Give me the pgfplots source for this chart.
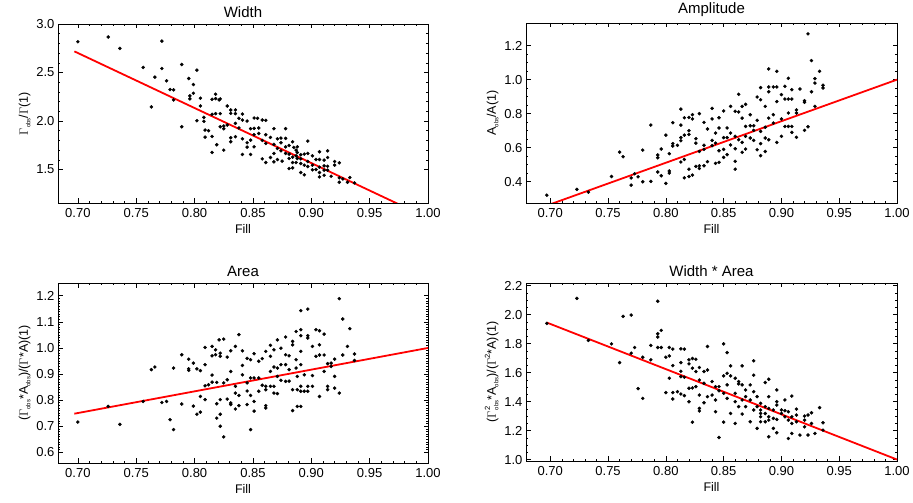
\documentclass[border=0pt]{standalone}
\usepackage{fontspec}
\setmainfont{Liberation Sans}
\usepackage{pgfplots}
\pgfplotsset{compat=1.18}
\newcommand{\sub}[1]{\raisebox{-0.35ex}{\fontsize{6}{6}\selectfont #1}}
\newcommand{\sps}[1]{\raisebox{0.9ex}{\fontsize{7.5}{7.5}\selectfont #1}}
\pgfplotsset{
  panel/.style={
    scale only axis,
    anchor=south west,
    font=\fontsize{12.5}{14}\selectfont,
    tick label style={font=\fontsize{13}{14}\selectfont},
    title style={font=\fontsize{15}{16}\selectfont, yshift=-3pt},
    xlabel style={font=\fontsize{12.5}{14}\selectfont, yshift=0pt},
    ylabel style={font=\fontsize{12.5}{14}\selectfont, yshift=-1pt},
    /pgf/number format/assume math mode=true,
    xmax=1.0,
    xtick={0.70,0.75,0.80,0.85,0.90,0.95,1.00},
    minor x tick num=4,
    xticklabel style={yshift=-1.5pt, /pgf/number format/.cd, fixed, fixed zerofill, precision=2},
    yticklabel style={/pgf/number format/.cd, fixed, fixed zerofill, precision=1},
    tick align=inside,
    major tick length=4.5pt, minor tick length=2.2pt,
    tick style={black, line width=0.6pt},
    axis line style={line width=0.9pt},
    xlabel={Fill},
  },
  dots/.style={only marks, mark=*, mark size=1.55pt, black},
  fit/.style={red, line width=1.8pt, no marks},
}
\begin{document}
\begin{tikzpicture}[x=1pt,y=1pt]
\useasboundingbox (0,0) rectangle (913,503);
% ---------------- Width
\begin{axis}[panel, at={(58pt,300pt)}, width=370pt, height=179pt,
  xmin=0.683, ymin=1.155, ymax=3.0, ytick={1.5,2.0,2.5,3.0}, minor y tick num=4,
  title={Width}, ylabel={$\Gamma$\sub{obs}/$\Gamma$(1)}]
\addplot[dots] table[row sep=\\] {
x y\\
0.700 2.817\\ 0.726 2.866\\ 0.736 2.748\\ 0.756 2.552\\ 0.772 2.824\\ 0.766 2.452\\ 0.772 2.541\\ 0.776 2.414\\
0.763 2.145\\ 0.779 2.324\\ 0.782 2.321\\ 0.782 2.217\\ 0.789 2.583\\ 0.789 1.941\\ 0.795 2.438\\ 0.796 2.259\\
0.796 2.228\\ 0.799 2.376\\ 0.799 2.286\\ 0.802 2.524\\ 0.802 2.003\\ 0.805 2.235\\ 0.805 2.155\\ 0.808 2.038\\
0.808 1.997\\ 0.809 1.907\\ 0.809 1.834\\ 0.812 1.900\\ 0.815 2.224\\ 0.815 2.069\\ 0.815 1.841\\ 0.815 1.676\\
0.818 2.276\\ 0.818 2.231\\ 0.818 2.076\\ 0.819 1.755\\ 0.821 2.217\\ 0.822 2.076\\ 0.822 1.941\\ 0.822 2.228\\
0.825 1.948\\ 0.825 1.921\\ 0.825 1.700\\ 0.828 2.155\\ 0.828 1.959\\ 0.831 2.114\\ 0.831 2.079\\ 0.831 1.828\\
0.831 1.786\\ 0.835 2.114\\ 0.835 2.076\\ 0.835 1.976\\ 0.835 1.838\\ 0.838 2.028\\ 0.838 1.928\\ 0.841 2.072\\
0.841 2.010\\ 0.841 1.817\\ 0.841 1.655\\ 0.845 2.000\\ 0.845 1.776\\ 0.845 1.731\\ 0.848 1.921\\ 0.848 1.655\\
0.848 1.803\\ 0.851 2.031\\ 0.851 1.924\\ 0.851 1.859\\ 0.851 1.734\\ 0.854 2.028\\ 0.855 1.928\\ 0.855 1.872\\
0.858 2.010\\ 0.858 1.800\\ 0.858 1.610\\ 0.861 2.007\\ 0.861 1.859\\ 0.861 1.572\\ 0.865 1.831\\ 0.865 1.624\\
0.868 1.921\\ 0.868 1.759\\ 0.868 1.579\\ 0.871 1.817\\ 0.871 1.717\\ 0.871 1.603\\ 0.874 1.824\\ 0.874 1.693\\
0.875 1.586\\ 0.878 1.921\\ 0.878 1.821\\ 0.878 1.666\\ 0.881 1.748\\ 0.881 1.510\\ 0.881 1.614\\ 0.884 1.786\\
0.884 1.572\\ 0.884 1.517\\ 0.885 1.728\\ 0.887 1.700\\ 0.887 1.641\\ 0.887 1.572\\ 0.888 1.676\\ 0.891 1.652\\
0.891 1.610\\ 0.891 1.469\\ 0.894 1.445\\ 0.894 1.659\\ 0.897 1.793\\ 0.897 1.666\\ 0.897 1.531\\ 0.901 1.641\\
0.901 1.497\\ 0.904 1.500\\ 0.907 1.683\\ 0.907 1.603\\ 0.907 1.469\\ 0.907 1.424\\ 0.911 1.597\\ 0.911 1.538\\
0.911 1.441\\ 0.914 1.693\\ 0.914 1.624\\ 0.914 1.534\\ 0.917 1.431\\ 0.920 1.583\\ 0.920 1.545\\ 0.924 1.569\\
0.924 1.369\\ 0.927 1.403\\ 0.931 1.369\\ 0.933 1.417\\ 0.937 1.362\\ 0.878 1.734\\ 0.881 1.659\\ 0.888 1.614\\
0.891 1.562\\ 0.894 1.545\\ 0.901 1.545\\ 0.904 1.603\\ 0.914 1.493\\ 0.924 1.414\\ 0.868 1.666\\ 0.861 1.769\\
0.874 1.776\\ 0.884 1.628\\ 0.888 1.734\\ 0.897 1.583\\ 0.907 1.524\\ 0.911 1.493\\
};
\addplot[fit] coordinates {(0.697,2.718) (1.0,1.0)};
\end{axis}
% ---------------- Amplitude
\begin{axis}[panel, at={(526pt,300pt)}, width=371pt, height=180pt,
  xmin=0.679, ymin=0.275, ymax=1.333, ytick={0.4,0.6,0.8,1.0,1.2}, minor y tick num=3,
  title={Amplitude}, ylabel={A\sub{obs}/A(1)}]
\addplot[dots] table[row sep=\\] {
x y\\
0.697 0.321\\ 0.723 0.355\\ 0.733 0.339\\ 0.753 0.431\\ 0.760 0.574\\ 0.763 0.547\\ 0.770 0.422\\ 0.770 0.380\\
0.773 0.447\\ 0.776 0.429\\ 0.780 0.586\\ 0.780 0.400\\ 0.787 0.733\\ 0.787 0.402\\ 0.793 0.557\\ 0.793 0.541\\
0.793 0.457\\ 0.796 0.592\\ 0.796 0.435\\ 0.800 0.674\\ 0.800 0.390\\ 0.803 0.565\\ 0.803 0.463\\ 0.803 0.451\\
0.806 0.747\\ 0.806 0.624\\ 0.806 0.610\\ 0.810 0.614\\ 0.813 0.827\\ 0.813 0.733\\ 0.813 0.659\\ 0.813 0.641\\
0.813 0.516\\ 0.816 0.776\\ 0.816 0.674\\ 0.816 0.531\\ 0.816 0.423\\ 0.820 0.778\\ 0.820 0.700\\ 0.820 0.678\\
0.820 0.474\\ 0.820 0.431\\ 0.823 0.794\\ 0.823 0.769\\ 0.823 0.439\\ 0.826 0.653\\ 0.826 0.627\\ 0.826 0.490\\
0.829 0.800\\ 0.829 0.578\\ 0.829 0.494\\ 0.829 0.478\\ 0.833 0.749\\ 0.833 0.614\\ 0.833 0.590\\ 0.833 0.494\\
0.836 0.710\\ 0.836 0.518\\ 0.840 0.831\\ 0.840 0.769\\ 0.840 0.643\\ 0.840 0.612\\ 0.843 0.686\\ 0.843 0.627\\
0.843 0.508\\ 0.846 0.776\\ 0.846 0.716\\ 0.846 0.582\\ 0.846 0.514\\ 0.850 0.816\\ 0.850 0.659\\ 0.850 0.590\\
0.850 0.543\\ 0.853 0.716\\ 0.853 0.659\\ 0.853 0.559\\ 0.856 0.843\\ 0.856 0.686\\ 0.856 0.616\\ 0.860 0.814\\
0.860 0.667\\ 0.860 0.594\\ 0.860 0.520\\ 0.860 0.474\\ 0.863 0.914\\ 0.863 0.810\\ 0.863 0.647\\ 0.866 0.843\\
0.866 0.774\\ 0.866 0.631\\ 0.866 0.573\\ 0.869 0.855\\ 0.869 0.725\\ 0.869 0.667\\ 0.869 0.592\\ 0.873 0.794\\
0.873 0.729\\ 0.873 0.657\\ 0.876 0.729\\ 0.876 0.702\\ 0.876 0.643\\ 0.879 0.898\\ 0.879 0.761\\ 0.879 0.588\\
0.882 0.953\\ 0.882 0.882\\ 0.882 0.696\\ 0.882 0.624\\ 0.882 0.553\\ 0.886 0.843\\ 0.886 0.720\\ 0.886 0.657\\
0.886 0.578\\ 0.889 1.063\\ 0.889 0.957\\ 0.889 0.929\\ 0.889 0.774\\ 0.889 0.647\\ 0.893 0.957\\ 0.893 0.794\\
0.893 0.745\\ 0.896 1.049\\ 0.896 0.957\\ 0.896 0.871\\ 0.896 0.631\\ 0.900 0.912\\ 0.900 0.769\\ 0.900 0.667\\
0.903 0.886\\ 0.903 0.961\\ 0.903 0.725\\ 0.906 1.008\\ 0.906 0.886\\ 0.906 0.804\\ 0.906 0.725\\ 0.909 0.941\\
0.909 0.886\\ 0.909 0.725\\ 0.909 0.690\\ 0.913 0.822\\ 0.913 0.804\\ 0.913 0.661\\ 0.916 0.945\\ 0.920 0.867\\
0.920 0.702\\ 0.923 0.723\\ 0.923 1.269\\ 0.926 1.112\\ 0.926 0.929\\ 0.929 1.006\\ 0.929 0.980\\ 0.933 1.049\\
0.936 0.967\\ 0.936 0.951\\ 0.920 0.876\\ 0.929 0.843\\
};
\addplot[fit] coordinates {(0.697,0.260) (1.0,1.0)};
\end{axis}
% ---------------- Area
\begin{axis}[panel, at={(58pt,40pt)}, width=370pt, height=180pt,
  xmin=0.683, ymin=0.559, ymax=1.249, ytick={0.6,0.7,0.8,0.9,1.0,1.1,1.2}, minor y tick num=9,
  title={Area}, ylabel={($\Gamma$\sub{obs}*A\sub{obs})/($\Gamma$*A)(1)}]
\addplot[dots] table[row sep=\\] {
x y\\
0.700 0.716\\ 0.726 0.776\\ 0.736 0.707\\ 0.756 0.795\\ 0.763 0.917\\ 0.766 0.927\\ 0.772 0.791\\ 0.776 0.795\\
0.779 0.725\\ 0.782 0.923\\ 0.782 0.687\\ 0.789 0.974\\ 0.789 0.785\\ 0.795 0.957\\ 0.795 0.920\\ 0.795 0.914\\
0.799 0.942\\ 0.799 0.777\\ 0.802 0.920\\ 0.802 0.746\\ 0.805 0.913\\ 0.805 0.814\\ 0.805 0.754\\ 0.809 1.002\\
0.809 0.936\\ 0.809 0.855\\ 0.809 0.802\\ 0.812 0.859\\ 0.815 1.006\\ 0.815 0.970\\ 0.815 0.896\\ 0.815 0.869\\
0.818 0.993\\ 0.818 0.974\\ 0.819 0.868\\ 0.819 0.786\\ 0.819 0.731\\ 0.821 1.031\\ 0.822 0.980\\ 0.822 0.968\\
0.822 0.802\\ 0.822 0.746\\ 0.822 0.700\\ 0.825 1.034\\ 0.825 0.866\\ 0.825 0.659\\ 0.828 0.965\\ 0.828 0.878\\
0.828 0.804\\ 0.831 0.989\\ 0.831 0.910\\ 0.831 0.789\\ 0.831 0.783\\ 0.835 1.006\\ 0.835 0.853\\ 0.835 0.827\\
0.835 0.766\\ 0.838 1.051\\ 0.838 0.818\\ 0.838 0.779\\ 0.841 0.989\\ 0.841 0.933\\ 0.841 0.897\\ 0.845 0.960\\
0.845 0.866\\ 0.845 0.835\\ 0.845 0.783\\ 0.848 0.955\\ 0.848 0.885\\ 0.848 0.818\\ 0.848 0.687\\ 0.851 0.978\\
0.851 0.885\\ 0.851 0.795\\ 0.851 0.758\\ 0.855 0.949\\ 0.855 0.885\\ 0.855 0.834\\ 0.858 0.959\\ 0.858 0.857\\
0.861 0.987\\ 0.861 0.853\\ 0.861 0.840\\ 0.861 0.779\\ 0.861 0.770\\ 0.865 1.010\\ 0.865 0.968\\ 0.865 0.910\\
0.865 0.853\\ 0.868 0.993\\ 0.868 0.927\\ 0.868 0.853\\ 0.868 0.827\\ 0.871 1.031\\ 0.871 0.923\\ 0.871 0.891\\
0.871 0.825\\ 0.874 0.999\\ 0.874 0.936\\ 0.874 0.876\\ 0.878 1.042\\ 0.878 0.974\\ 0.878 0.936\\ 0.878 0.872\\
0.881 0.970\\ 0.881 0.917\\ 0.881 0.873\\ 0.884 1.025\\ 0.884 1.012\\ 0.884 0.840\\ 0.884 0.760\\ 0.887 1.063\\
0.887 0.955\\ 0.887 0.923\\ 0.888 0.891\\ 0.888 0.840\\ 0.888 0.776\\ 0.891 1.143\\ 0.891 1.070\\ 0.891 1.047\\
0.891 0.987\\ 0.891 0.936\\ 0.891 0.853\\ 0.891 0.834\\ 0.891 0.776\\ 0.894 0.897\\ 0.894 0.834\\ 0.897 1.149\\
0.897 1.047\\ 0.897 1.038\\ 0.897 0.853\\ 0.897 0.834\\ 0.901 1.006\\ 0.901 0.894\\ 0.901 0.853\\ 0.904 1.070\\
0.904 0.968\\ 0.907 1.066\\ 0.907 1.012\\ 0.907 0.973\\ 0.907 0.814\\ 0.911 1.053\\ 0.911 0.973\\ 0.911 0.910\\
0.914 0.940\\ 0.914 0.853\\ 0.914 0.840\\ 0.917 0.942\\ 0.920 0.957\\ 0.920 0.891\\ 0.920 0.846\\ 0.924 1.189\\
0.924 0.827\\ 0.927 1.111\\ 0.927 0.973\\ 0.931 1.006\\ 0.933 1.074\\ 0.937 0.977\\ 0.937 0.952\\ 0.917 0.929\\
};
\addplot[fit] coordinates {(0.697,0.748) (1.0,1.0)};
\end{axis}
% ---------------- Width * Area
\begin{axis}[panel, at={(526pt,42pt)}, width=371pt, height=178pt,
  xmin=0.679, ymin=0.99, ymax=2.218, ytick={1.0,1.2,1.4,1.6,1.8,2.0,2.2}, minor y tick num=3,
  title={Width * Area}, ylabel={($\Gamma$\sps{2}\kern-3.4pt\sub{obs}*A\sub{obs})/($\Gamma$\sps{2}*A)(1)}]
\addplot[dots] table[row sep=\\] {
x y\\
0.697 1.939\\ 0.723 2.112\\ 0.733 1.822\\ 0.753 1.798\\ 0.760 1.669\\ 0.763 1.988\\ 0.770 1.997\\ 0.770 1.734\\
0.773 1.773\\ 0.776 1.489\\ 0.780 1.706\\ 0.780 1.422\\ 0.787 1.787\\ 0.787 1.688\\ 0.793 2.092\\ 0.793 1.868\\
0.793 1.845\\ 0.793 1.773\\ 0.796 1.891\\ 0.796 1.773\\ 0.800 1.706\\ 0.800 1.462\\ 0.803 1.773\\ 0.803 1.715\\
0.803 1.561\\ 0.806 1.762\\ 0.806 1.648\\ 0.806 1.462\\ 0.806 1.418\\ 0.810 1.468\\ 0.813 1.764\\ 0.813 1.669\\
0.813 1.609\\ 0.813 1.572\\ 0.813 1.452\\ 0.816 1.762\\ 0.816 1.568\\ 0.816 1.441\\ 0.820 1.688\\ 0.820 1.660\\
0.820 1.492\\ 0.820 1.399\\ 0.823 1.697\\ 0.823 1.630\\ 0.823 1.494\\ 0.823 1.258\\ 0.826 1.692\\ 0.826 1.607\\
0.826 1.503\\ 0.829 1.635\\ 0.829 1.549\\ 0.829 1.445\\ 0.829 1.353\\ 0.829 1.335\\ 0.833 1.607\\ 0.833 1.526\\
0.833 1.392\\ 0.836 1.780\\ 0.836 1.618\\ 0.836 1.434\\ 0.840 1.538\\ 0.840 1.445\\ 0.843 1.503\\ 0.843 1.411\\
0.843 1.330\\ 0.846 1.503\\ 0.846 1.475\\ 0.846 1.152\\ 0.850 1.798\\ 0.850 1.577\\ 0.850 1.457\\ 0.850 1.258\\
0.853 1.738\\ 0.853 1.595\\ 0.853 1.515\\ 0.853 1.422\\ 0.856 1.646\\ 0.856 1.577\\ 0.856 1.318\\ 0.860 1.561\\
0.860 1.457\\ 0.860 1.399\\ 0.860 1.249\\ 0.863 1.538\\ 0.863 1.522\\ 0.863 1.365\\ 0.866 1.646\\ 0.866 1.515\\
0.866 1.411\\ 0.866 1.314\\ 0.869 1.480\\ 0.869 1.434\\ 0.869 1.365\\ 0.873 1.515\\ 0.873 1.411\\ 0.873 1.261\\
0.876 1.681\\ 0.876 1.582\\ 0.876 1.468\\ 0.876 1.342\\ 0.879 1.434\\ 0.879 1.365\\ 0.879 1.215\\ 0.882 1.388\\
0.882 1.342\\ 0.882 1.295\\ 0.882 1.261\\ 0.886 1.531\\ 0.886 1.365\\ 0.886 1.318\\ 0.886 1.261\\ 0.889 1.554\\
0.889 1.434\\ 0.889 1.353\\ 0.889 1.295\\ 0.889 1.157\\ 0.893 1.342\\ 0.893 1.215\\ 0.896 1.480\\ 0.896 1.399\\
0.896 1.376\\ 0.896 1.277\\ 0.896 1.185\\ 0.900 1.342\\ 0.900 1.318\\ 0.903 1.411\\ 0.903 1.337\\ 0.906 1.272\\
0.906 1.145\\ 0.906 1.330\\ 0.909 1.438\\ 0.909 1.295\\ 0.909 1.249\\ 0.909 1.180\\ 0.913 1.348\\ 0.913 1.307\\
0.913 1.261\\ 0.916 1.169\\ 0.920 1.300\\ 0.920 1.272\\ 0.920 1.226\\ 0.923 1.307\\ 0.923 1.169\\ 0.926 1.323\\
0.926 1.249\\ 0.929 1.180\\ 0.933 1.358\\ 0.936 1.254\\ 0.936 1.203\\ 0.889 1.272\\ 0.893 1.284\\ 0.882 1.318\\
0.903 1.295\\
};
\addplot[fit] coordinates {(0.697,1.945) (1.0,1.0)};
\end{axis}
\end{tikzpicture}
\end{document}
